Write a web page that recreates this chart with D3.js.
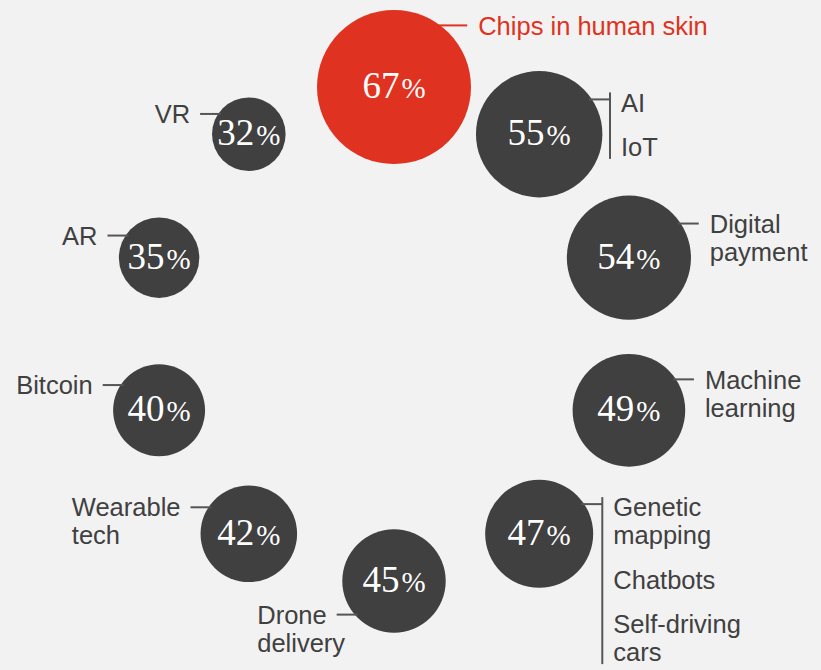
<!DOCTYPE html>
<meta charset="utf-8">
<script src="https://d3js.org/d3.v7.min.js"></script>
<style>
body {
  margin: 0;
  background: #f2f2f2;
}
.label {
  font-family: "Liberation Sans", Arial, sans-serif;
  font-size: 25.5px;
  fill: #404040;
}
.pct {
  font-family: "Liberation Serif", "Times New Roman", serif;
  fill: #ffffff;
}
</style>
<div id="my_dataviz"></div>
<script>

// values, clockwise from the top
var values = [67, 55, 54, 49, 47, 45, 42, 40, 35, 32];

// each bubble can carry several labels, each label several lines
var labels = [
  [["Chips in human skin"]],
  [["AI"], ["IoT"]],
  [["Digital", "payment"]],
  [["Machine", "learning"]],
  [["Genetic", "mapping"], ["Chatbots"], ["Self-driving", "cars"]],
  [["Drone", "delivery"]],
  [["Wearable", "tech"]],
  [["Bitcoin"]],
  [["AR"]],
  [["VR"]]
];

var highlight = 0;

var width = 821,
    height = 670,
    ringX = 394,
    ringY = 334,
    ringR = 247;

var red = "#e03220",
    grey = "#404040",
    lineGrey = "#555555";

var svg = d3.select("#my_dataviz")
  .append("svg")
    .attr("width", width)
    .attr("height", height);

// angle around the ring and bubble radius
var angle = d3.scaleLinear()
  .domain([0, values.length])
  .range([0, 2 * Math.PI]);

var r = d3.scaleLinear()
  .domain([0, d3.max(values)])
  .range([0, 77]);

var data = values.map(function(v, i) {
  var a = angle(i);
  return {
    value: v,
    labels: labels[i],
    i: i,
    x: ringX + ringR * Math.sin(a),
    y: ringY - ringR * Math.cos(a),
    r: r(v),
    right: a < Math.PI
  };
});

// bubbles
svg.selectAll("circle.bubble")
  .data(data)
  .enter()
  .append("circle")
    .attr("class", "bubble")
    .attr("cx", function(d) { return d.x; })
    .attr("cy", function(d) { return d.y; })
    .attr("r", function(d) { return d.r; })
    .attr("fill", function(d) { return d.i === highlight ? red : grey; });

// percentages
var pct = svg.selectAll("text.pct")
  .data(data)
  .enter()
  .append("text")
    .attr("class", "pct")
    .attr("x", function(d) { return d.x; })
    .attr("y", function(d) { return d.y + 11; })
    .attr("text-anchor", "middle");
pct.append("tspan")
    .style("font-size", "37px")
    .text(function(d) { return d.value; });
pct.append("tspan")
    .attr("dx", 2)
    .style("font-size", "29px")
    .text("%");

// labels with leader lines
data.forEach(function(d) {
  var isHi = d.i === highlight;
  var colour = isHi ? red : grey;
  var stroke = isHi ? red : lineGrey;

  // where the leader leaves the bubble
  var frac = -0.55;
  if (isHi) frac = -0.8;
  if (Math.abs(angle(d.i) - Math.PI) < 0.01) frac = 0.65;
  var ly = d.y + frac * d.r;
  var edge = Math.sqrt(d.r * d.r - (frac * d.r) * (frac * d.r));
  var dir = d.right ? 1 : -1;
  var x0 = d.x + dir * (edge - 3),
      x1 = d.x + dir * (edge + (isHi ? 27 : 18));

  svg.append("line")
    .attr("x1", x0).attr("x2", x1)
    .attr("y1", ly).attr("y2", ly)
    .attr("stroke", stroke)
    .attr("stroke-width", 2);

  var group = d.labels.length > 1;
  var cy = ly + (group ? 3 : 0);
  var lastY = cy;

  d.labels.forEach(function(lab, k) {
    var t = svg.append("text")
      .attr("class", "label")
      .style("fill", colour);
    lab.forEach(function(line, j) {
      t.append("tspan")
        .attr("y", cy + j * 28)
        .attr("dy", "0.36em")
        .text(line);
    });
    var tx;
    if (d.right) {
      tx = x1 + 11;
    } else {
      var w = t.select("tspan").node().getComputedTextLength();
      tx = x1 - 10 - w;
    }
    t.selectAll("tspan").attr("x", tx);
    lastY = cy + (lab.length - 1) * 28;
    cy = lastY + 44.5;
  });

  if (group) {
    svg.append("line")
      .attr("x1", x1).attr("x2", x1)
      .attr("y1", ly - 7)
      .attr("y2", lastY + 12)
      .attr("stroke", lineGrey)
      .attr("stroke-width", 2);
  }
});

</script>
